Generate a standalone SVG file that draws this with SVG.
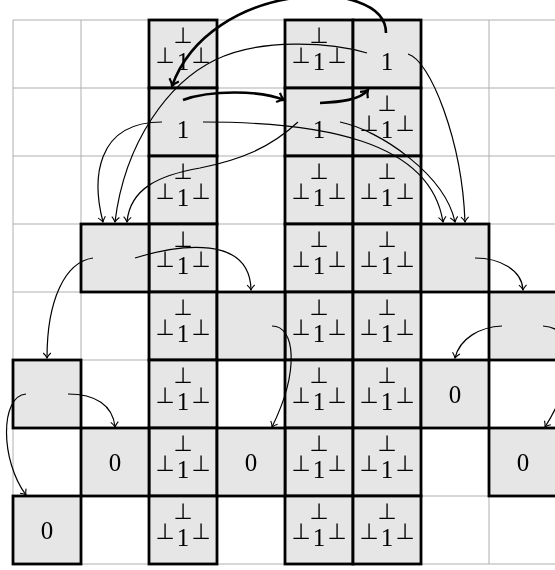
<svg xmlns="http://www.w3.org/2000/svg" width="555" height="570" viewBox="0 0 555 570">
<style>
.grid line{stroke:#a6a6a6;stroke-width:0.9}
.cell{fill:#e6e6e6;stroke:#000;stroke-width:2.8}
.p{font-family:"DejaVu Sans",sans-serif;font-size:22px;text-anchor:middle;fill:#000}
.d{font-family:"Liberation Serif",serif;font-size:25px;text-anchor:middle;fill:#000}
.thin{fill:none;stroke:#000;stroke-width:1.2;marker-end:url(#ah)}
.thick{fill:none;stroke:#000;stroke-width:2.6;marker-end:url(#ahk)}
</style>
<defs>
<filter id="gs" x="0" y="0" width="555" height="570" filterUnits="userSpaceOnUse"><feColorMatrix type="saturate" values="0"/></filter>
<marker id="ah" markerUnits="userSpaceOnUse" viewBox="-8 -6 10 12" refX="0" refY="0" markerWidth="10" markerHeight="12" orient="auto" overflow="visible">
<path d="M-5,-3.8 C-3,-1.6 -1,-0.5 0,0 C-1,0.5 -3,1.6 -5,3.8" fill="none" stroke="#000" stroke-width="1.1"/>
</marker>
<marker id="ahk" markerUnits="userSpaceOnUse" viewBox="-9 -7 11 14" refX="0" refY="0" markerWidth="11" markerHeight="14" orient="auto" overflow="visible">
<path d="M-6.5,-5 C-4,-2.2 -1.5,-0.6 0,0 C-1.5,0.6 -4,2.2 -6.5,5" fill="none" stroke="#000" stroke-width="2.2"/>
</marker>
</defs>
<rect width="555" height="570" fill="#fff"/>
<g class="grid" id="grid">
<line x1="13" y1="20" x2="13" y2="564"/><line x1="81" y1="20" x2="81" y2="564"/><line x1="149" y1="20" x2="149" y2="564"/><line x1="217" y1="20" x2="217" y2="564"/><line x1="285" y1="20" x2="285" y2="564"/><line x1="353" y1="20" x2="353" y2="564"/><line x1="421" y1="20" x2="421" y2="564"/><line x1="489" y1="20" x2="489" y2="564"/><line x1="557" y1="20" x2="557" y2="564"/>
<line x1="13" y1="20" x2="557" y2="20"/><line x1="13" y1="88" x2="557" y2="88"/><line x1="13" y1="156" x2="557" y2="156"/><line x1="13" y1="224" x2="557" y2="224"/><line x1="13" y1="292" x2="557" y2="292"/><line x1="13" y1="360" x2="557" y2="360"/><line x1="13" y1="428" x2="557" y2="428"/><line x1="13" y1="496" x2="557" y2="496"/><line x1="13" y1="564" x2="557" y2="564"/>
</g>
<g id="nodes" filter="url(#gs)">
<!-- column 2 -->
<g id="c2r0"><rect class="cell" x="149" y="20" width="68" height="68"/><text class="p" x="183" y="42.5">⊥</text><text class="p" x="165" y="62.5">⊥</text><text class="p" x="201" y="62.5">⊥</text><text class="d" x="183" y="70">1</text></g>
<g id="c2r1"><rect class="cell" x="149" y="88" width="68" height="68"/><text class="d" x="183" y="138">1</text></g>
<g id="c2r2"><rect class="cell" x="149" y="156" width="68" height="68"/><text class="p" x="183" y="178.5">⊥</text><text class="p" x="165" y="198.5">⊥</text><text class="p" x="201" y="198.5">⊥</text><text class="d" x="183" y="206">1</text></g>
<g id="c2r3"><rect class="cell" x="149" y="224" width="68" height="68"/><text class="p" x="183" y="246.5">⊥</text><text class="p" x="165" y="266.5">⊥</text><text class="p" x="201" y="266.5">⊥</text><text class="d" x="183" y="274">1</text></g>
<g id="c2r4"><rect class="cell" x="149" y="292" width="68" height="68"/><text class="p" x="183" y="314.5">⊥</text><text class="p" x="165" y="334.5">⊥</text><text class="p" x="201" y="334.5">⊥</text><text class="d" x="183" y="342">1</text></g>
<g id="c2r5"><rect class="cell" x="149" y="360" width="68" height="68"/><text class="p" x="183" y="382.5">⊥</text><text class="p" x="165" y="402.5">⊥</text><text class="p" x="201" y="402.5">⊥</text><text class="d" x="183" y="410">1</text></g>
<g id="c2r6"><rect class="cell" x="149" y="428" width="68" height="68"/><text class="p" x="183" y="450.5">⊥</text><text class="p" x="165" y="470.5">⊥</text><text class="p" x="201" y="470.5">⊥</text><text class="d" x="183" y="478">1</text></g>
<g id="c2r7"><rect class="cell" x="149" y="496" width="68" height="68"/><text class="p" x="183" y="518.5">⊥</text><text class="p" x="165" y="538.5">⊥</text><text class="p" x="201" y="538.5">⊥</text><text class="d" x="183" y="546">1</text></g>
<!-- column 4 -->
<g id="c4r0"><rect class="cell" x="285" y="20" width="68" height="68"/><text class="p" x="319" y="42.5">⊥</text><text class="p" x="301" y="62.5">⊥</text><text class="p" x="337" y="62.5">⊥</text><text class="d" x="319" y="70">1</text></g>
<g id="c4r1"><rect class="cell" x="285" y="88" width="68" height="68"/><text class="d" x="319" y="138">1</text></g>
<g id="c4r2"><rect class="cell" x="285" y="156" width="68" height="68"/><text class="p" x="319" y="178.5">⊥</text><text class="p" x="301" y="198.5">⊥</text><text class="p" x="337" y="198.5">⊥</text><text class="d" x="319" y="206">1</text></g>
<g id="c4r3"><rect class="cell" x="285" y="224" width="68" height="68"/><text class="p" x="319" y="246.5">⊥</text><text class="p" x="301" y="266.5">⊥</text><text class="p" x="337" y="266.5">⊥</text><text class="d" x="319" y="274">1</text></g>
<g id="c4r4"><rect class="cell" x="285" y="292" width="68" height="68"/><text class="p" x="319" y="314.5">⊥</text><text class="p" x="301" y="334.5">⊥</text><text class="p" x="337" y="334.5">⊥</text><text class="d" x="319" y="342">1</text></g>
<g id="c4r5"><rect class="cell" x="285" y="360" width="68" height="68"/><text class="p" x="319" y="382.5">⊥</text><text class="p" x="301" y="402.5">⊥</text><text class="p" x="337" y="402.5">⊥</text><text class="d" x="319" y="410">1</text></g>
<g id="c4r6"><rect class="cell" x="285" y="428" width="68" height="68"/><text class="p" x="319" y="450.5">⊥</text><text class="p" x="301" y="470.5">⊥</text><text class="p" x="337" y="470.5">⊥</text><text class="d" x="319" y="478">1</text></g>
<g id="c4r7"><rect class="cell" x="285" y="496" width="68" height="68"/><text class="p" x="319" y="518.5">⊥</text><text class="p" x="301" y="538.5">⊥</text><text class="p" x="337" y="538.5">⊥</text><text class="d" x="319" y="546">1</text></g>
<!-- column 5 -->
<g id="c5r0"><rect class="cell" x="353" y="20" width="68" height="68"/><text class="d" x="387" y="70">1</text></g>
<g id="c5r1"><rect class="cell" x="353" y="88" width="68" height="68"/><text class="p" x="387" y="110.5">⊥</text><text class="p" x="369" y="130.5">⊥</text><text class="p" x="405" y="130.5">⊥</text><text class="d" x="387" y="138">1</text></g>
<g id="c5r2"><rect class="cell" x="353" y="156" width="68" height="68"/><text class="p" x="387" y="178.5">⊥</text><text class="p" x="369" y="198.5">⊥</text><text class="p" x="405" y="198.5">⊥</text><text class="d" x="387" y="206">1</text></g>
<g id="c5r3"><rect class="cell" x="353" y="224" width="68" height="68"/><text class="p" x="387" y="246.5">⊥</text><text class="p" x="369" y="266.5">⊥</text><text class="p" x="405" y="266.5">⊥</text><text class="d" x="387" y="274">1</text></g>
<g id="c5r4"><rect class="cell" x="353" y="292" width="68" height="68"/><text class="p" x="387" y="314.5">⊥</text><text class="p" x="369" y="334.5">⊥</text><text class="p" x="405" y="334.5">⊥</text><text class="d" x="387" y="342">1</text></g>
<g id="c5r5"><rect class="cell" x="353" y="360" width="68" height="68"/><text class="p" x="387" y="382.5">⊥</text><text class="p" x="369" y="402.5">⊥</text><text class="p" x="405" y="402.5">⊥</text><text class="d" x="387" y="410">1</text></g>
<g id="c5r6"><rect class="cell" x="353" y="428" width="68" height="68"/><text class="p" x="387" y="450.5">⊥</text><text class="p" x="369" y="470.5">⊥</text><text class="p" x="405" y="470.5">⊥</text><text class="d" x="387" y="478">1</text></g>
<g id="c5r7"><rect class="cell" x="353" y="496" width="68" height="68"/><text class="p" x="387" y="518.5">⊥</text><text class="p" x="369" y="538.5">⊥</text><text class="p" x="405" y="538.5">⊥</text><text class="d" x="387" y="546">1</text></g>
<!-- other cells -->
<g id="c1r3"><rect class="cell" x="81" y="224" width="68" height="68"/></g>
<g id="c1r6"><rect class="cell" x="81" y="428" width="68" height="68"/><text class="d" x="115" y="471">0</text></g>
<g id="c0r5"><rect class="cell" x="13" y="360" width="68" height="68"/></g>
<g id="c0r7"><rect class="cell" x="13" y="496" width="68" height="68"/><text class="d" x="47" y="539">0</text></g>
<g id="c3r4"><rect class="cell" x="217" y="292" width="68" height="68"/></g>
<g id="c3r6"><rect class="cell" x="217" y="428" width="68" height="68"/><text class="d" x="251" y="471">0</text></g>
<g id="c6r3"><rect class="cell" x="421" y="224" width="68" height="68"/></g>
<g id="c6r5"><rect class="cell" x="421" y="360" width="68" height="68"/><text class="d" x="455" y="403">0</text></g>
<g id="c7r4"><rect class="cell" x="489" y="292" width="68" height="68"/></g>
<g id="c7r6"><rect class="cell" x="489" y="428" width="68" height="68"/><text class="d" x="523" y="471">0</text></g>
</g>
<g id="connectors">
<path class="thick" d="M386,33 C386,-25 210,-20 172,86"/>
<path class="thick" d="M183,100 C210,90 260,90 284,100"/>
<path class="thick" d="M320,103 C340,102 360,100 368,90"/>
<path class="thin" d="M162,122 C95,122 92,180 103,222"/>
<path class="thin" d="M367,53 C330,42 260,38 215,60 C170,82 125,140 115,222"/>
<path class="thin" d="M298,122 C270,148 240,160 200,168 C160,175 130,188 127,222"/>
<path class="thin" d="M203,122 C320,122 430,140 443,222"/>
<path class="thin" d="M340,122 C380,130 445,175 455,222"/>
<path class="thin" d="M408,54 C430,60 462,140 465,222"/>
<path class="thin" d="M93,258 C65,262 47,300 47,358"/>
<path class="thin" d="M135,258 C180,244 250,235 251,290"/>
<path class="thin" d="M475,258 C500,258 522,270 523,290"/>
<path class="thin" d="M272,326 C295,326 300,370 272,427"/>
<path class="thin" d="M502,326 C480,327 460,338 455,358"/>
<path class="thin" d="M543,326 C580,328 575,380 545,427"/>
<path class="thin" d="M26,394 C0,396 0,460 26,495"/>
<path class="thin" d="M68,394 C95,394 113,405 115,427"/>
</g>
</svg>
